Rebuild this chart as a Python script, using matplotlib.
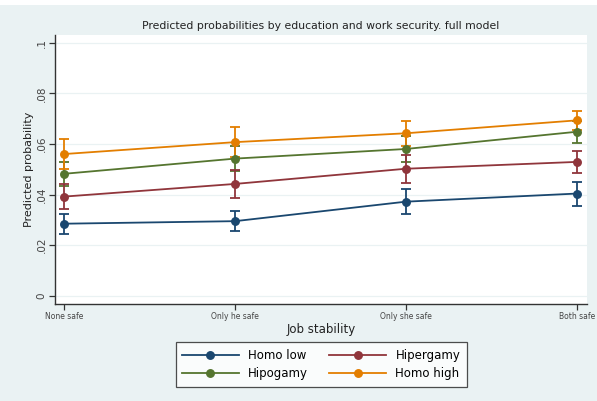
import matplotlib.pyplot as plt
import matplotlib.patches as mpatches

# job stability categories on the x axis
categories = ["None safe", "Only he safe", "Only she safe", "Both safe"]

# predicted probabilities and 95% CI bounds by couple education type
homo_low = [0.0285, 0.0295, 0.0372, 0.0404]
homo_low_lo = [0.0245, 0.0255, 0.0322, 0.0356]
homo_low_hi = [0.0325, 0.0337, 0.0421, 0.0449]

hipergamy = [0.0392, 0.0442, 0.0502, 0.0529]
hipergamy_lo = [0.0343, 0.0386, 0.0445, 0.0484]
hipergamy_hi = [0.0441, 0.0498, 0.0558, 0.0574]

hipogamy = [0.0482, 0.0542, 0.0580, 0.0648]
hipogamy_lo = [0.0434, 0.0493, 0.0530, 0.0605]
hipogamy_hi = [0.0530, 0.0590, 0.0630, 0.0691]

homo_high = [0.0560, 0.0607, 0.0642, 0.0693]
homo_high_lo = [0.0501, 0.0548, 0.0592, 0.0655]
homo_high_hi = [0.0619, 0.0666, 0.0692, 0.0730]

y_ticks = [0, 0.02, 0.04, 0.06, 0.08, 0.1]
y_tick_labels = ["0", ".02", ".04", ".06", ".08", ".1"]

series = [
    ("Homo low", homo_low, homo_low_lo, homo_low_hi, "#1a476f"),
    ("Hipogamy", hipogamy, hipogamy_lo, hipogamy_hi, "#55752f"),
    ("Hipergamy", hipergamy, hipergamy_lo, hipergamy_hi, "#90353b"),
    ("Homo high", homo_high, homo_high_lo, homo_high_hi, "#e37e00"),
]

bg = "#eaf2f3"
fig = plt.figure(figsize=(5.97, 4.01), dpi=100, facecolor=bg)
# thin white strip along the top edge
fig.patches.append(mpatches.Rectangle((0, 0.988), 1, 0.012, transform=fig.transFigure,
                                      facecolor="white", edgecolor="none", zorder=0))
ax = fig.add_axes([0.0921, 0.2419, 0.8911, 0.6708])
ax.set_facecolor("white")

x = list(range(len(categories)))
handles = []
for name, vals, lo, hi, color in series:
    err = [[v - l for v, l in zip(vals, lo)], [h - v for v, h in zip(vals, hi)]]
    ax.errorbar(x, vals, yerr=err, fmt="none", ecolor=color, elinewidth=1.3,
                capsize=3.3, capthick=1.3, zorder=2)
    h, = ax.plot(x, vals, color=color, lw=1.3, marker="o", markersize=5.4, zorder=3,
                 label=name)
    handles.append(h)

ax.set_xlim(-0.053, 3.06)
ax.set_ylim(-0.0032, 0.103)

ax.set_yticks(y_ticks)
ax.set_yticklabels(y_tick_labels, rotation=90, va="center", fontsize=7.5, color="#444444")
ax.set_xticks(x)
ax.set_xticklabels(categories, fontsize=5.5, color="#444444")
ax.tick_params(axis="both", length=4, width=0.9, color="#333333", pad=2)

ax.grid(axis="y", color=bg, lw=0.9)
ax.set_axisbelow(True)
for side in ["top", "right"]:
    ax.spines[side].set_visible(False)
for side in ["left", "bottom"]:
    ax.spines[side].set_color("#333333")
    ax.spines[side].set_linewidth(1.0)

ax.set_ylabel("Predicted probability", fontsize=8, color="#222222", labelpad=2)
ax.set_xlabel("Job stability", fontsize=8.5, color="#222222", labelpad=1)
ax.set_title("Predicted probabilities by education and work security. full model",
             fontsize=7.8, color="#222222", pad=4)

leg = fig.legend(handles=handles, loc="center", bbox_to_anchor=(0.538, 0.091), ncol=2,
                 fontsize=8.5, frameon=True, fancybox=False, edgecolor="#222222",
                 facecolor="white", handlelength=4.8, columnspacing=1.8,
                 handletextpad=0.8, borderpad=0.55, labelspacing=0.45)
leg.get_frame().set_linewidth(0.9)

fig.savefig("out.png", dpi=100, facecolor=bg)
